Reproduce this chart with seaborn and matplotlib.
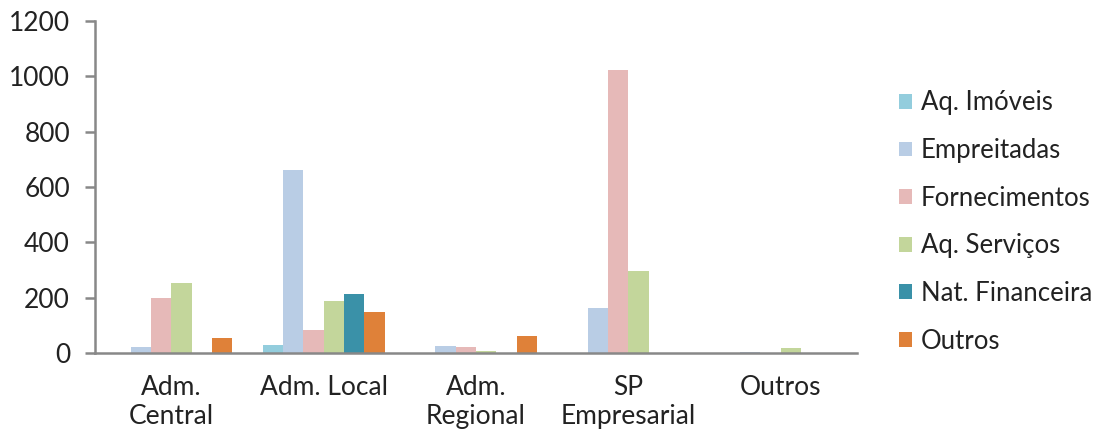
import matplotlib
matplotlib.use("Agg")
import matplotlib.pyplot as plt
import seaborn as sns
import pandas as pd
import numpy as np

categories = ["Adm.\nCentral", "Adm. Local", "Adm.\nRegional", "SP\nEmpresarial", "Outros"]
series = ["Aq. Imóveis", "Empreitadas", "Fornecimentos", "Aq. Serviços", "Nat. Financeira", "Outros"]

aq_imoveis = [0, 30, 0, 0, 0]
empreitadas = [20, 661, 25, 161, 5]
fornecimentos = [198, 83, 20, 1022, 0]
aq_servicos = [254, 188, 7, 296, 19]
nat_financeira = [0, 212, 0, 0, 0]
outros = [53, 147, 62, 0, 0]

colors = ["#93CDDD", "#B9CDE5", "#E6B9B8", "#C3D69B", "#3A91A8", "#DF8139"]

values = [aq_imoveis, empreitadas, fornecimentos, aq_servicos, nat_financeira, outros]
rows = []
for name, vals in zip(series, values):
    for cat, v in zip(categories, vals):
        rows.append({"categoria": cat, "tipo": name, "valor": v})
df = pd.DataFrame(rows)

sns.set_theme(style="white")
plt.rcParams["font.family"] = ["Lato", "DejaVu Sans"]

FS = 19
fig = plt.figure(figsize=(11.12, 4.36), dpi=100)
ax = fig.add_axes([95 / 1112, 83 / 436, (857 - 95) / 1112, 332 / 436])

sns.barplot(data=df, x="categoria", y="valor", hue="tipo", order=categories,
            hue_order=series, palette=colors, width=0.8, linewidth=0,
            saturation=1, ax=ax, legend=True)

axis_col = "#888888"
ax.set_xlim(-0.5, len(categories) - 0.5)
ax.set_ylim(0, 1200)
ax.set_yticks(np.arange(0, 1201, 200))
ax.set_yticklabels([str(v) for v in range(0, 1201, 200)], fontsize=FS, color="#222222")

# category boundaries as major ticks, labels on minor ticks
ax.set_xticks(np.arange(-0.5, len(categories), 1.0))
ax.set_xticklabels([])
ax.set_xticks(np.arange(len(categories)), minor=True)
ax.set_xticklabels(categories, minor=True, fontsize=FS, color="#222222", linespacing=1.2)
ax.tick_params(axis="x", which="major", length=7, width=1.8, color=axis_col, direction="out")
ax.tick_params(axis="x", which="minor", length=0, pad=16)
ax.tick_params(axis="y", length=7, width=1.8, color=axis_col, direction="out", pad=11, left=True)
ax.set_xlabel("")
ax.set_ylabel("")

for side in ["top", "right"]:
    ax.spines[side].set_visible(False)
for side in ["left", "bottom"]:
    ax.spines[side].set_color(axis_col)
    ax.spines[side].set_linewidth(1.8)

handles, labels = ax.get_legend_handles_labels()
ax.legend_.remove()
fig.legend(handles, labels, loc="center left", bbox_to_anchor=(876 / 1112, 1 - 222 / 436),
           frameon=False, fontsize=18.5, handlelength=0.5, handleheight=0.5,
           handletextpad=0.35, labelspacing=0.88, labelcolor="#222222")

fig.savefig("out.png", dpi=100)
